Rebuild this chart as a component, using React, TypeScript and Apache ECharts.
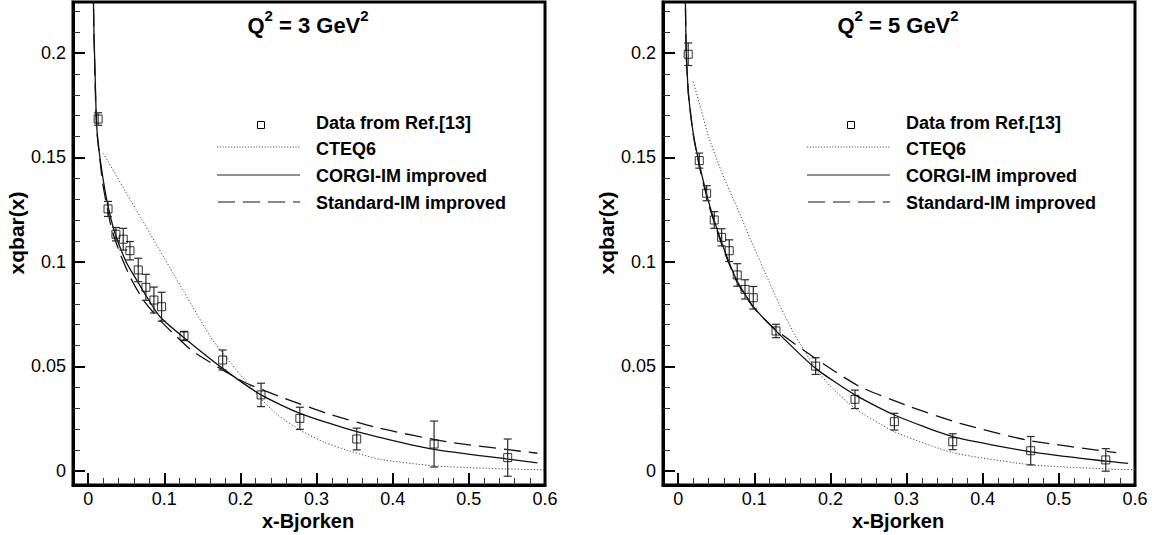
import React, { useEffect, useRef } from "react";
import * as echarts from "echarts";

const FONT = "'Liberation Sans', Arial, Helvetica, sans-serif";

// Axis ranges and tick values
const X_MIN = -0.02;
const X_MAX = 0.6;
const Y_MIN = -0.0067;
const Y_MAX = 0.2244;
const xMajorTicks = [0, 0.1, 0.2, 0.3, 0.4, 0.5, 0.6];
const xMinorTicks = [0.02, 0.04, 0.06, 0.08, 0.12, 0.14, 0.16, 0.18, 0.22, 0.24, 0.26, 0.28, 0.32, 0.34, 0.36, 0.38, 0.42, 0.44, 0.46, 0.48, 0.52, 0.54, 0.56, 0.58];
const yMajorTicks = [0, 0.05, 0.1, 0.15, 0.2];
const yMinorTicks = [0.01, 0.02, 0.03, 0.04, 0.06, 0.07, 0.08, 0.09, 0.11, 0.12, 0.13, 0.14, 0.16, 0.17, 0.18, 0.19, 0.21, 0.22];

const legendLabels = ["Data from Ref.[13]", "CTEQ6", "CORGI-IM improved", "Standard-IM improved"];
const panelTitles = ["3", "5"];

// Q^2 = 3 GeV^2 data
const dataX3 = [0.013, 0.026, 0.0364, 0.046, 0.0548, 0.0657, 0.0758, 0.0863, 0.0964, 0.1258, 0.1766, 0.227, 0.278, 0.3527, 0.4543, 0.551];
const dataY3 = [0.1684, 0.1254, 0.1133, 0.1109, 0.1054, 0.0962, 0.0879, 0.0818, 0.0786, 0.0646, 0.0531, 0.0364, 0.0252, 0.0153, 0.0129, 0.0064];
const dataErr3 = [0.003, 0.0036, 0.0032, 0.0052, 0.0044, 0.0056, 0.0062, 0.0062, 0.0069, 0.0022, 0.0048, 0.0056, 0.0053, 0.0052, 0.011, 0.0089];

const cteq3 = [[0.0197, 0.152], [0.0636, 0.1246], [0.113, 0.0937], [0.16, 0.0645], [0.1766, 0.0565], [0.2, 0.046], [0.227, 0.0345], [0.25, 0.0265], [0.278, 0.0196], [0.31, 0.0138], [0.3396, 0.01], [0.383, 0.0056], [0.4533, 0.0025], [0.5147, 0.0014], [0.6, 0.0005]];
const corgi3 = [[0.006, 0.245], [0.0075, 0.21], [0.0088, 0.193], [0.011, 0.166], [0.0154, 0.15], [0.0242, 0.13], [0.035, 0.114], [0.0505, 0.0995], [0.0636, 0.0914], [0.0767, 0.0834], [0.0942, 0.0738], [0.125, 0.064], [0.1766, 0.0491], [0.227, 0.0364], [0.278, 0.0276], [0.3527, 0.0188], [0.4543, 0.0103], [0.551, 0.0057], [0.59, 0.0039]];
const standard3 = [[0.006, 0.245], [0.0075, 0.21], [0.0088, 0.19], [0.011, 0.164], [0.0154, 0.1488], [0.0197, 0.136], [0.0307, 0.116], [0.0417, 0.1042], [0.0548, 0.093], [0.0723, 0.0818], [0.0942, 0.0722], [0.116, 0.0643], [0.138, 0.0571], [0.2037, 0.0427], [0.2519, 0.0356], [0.3133, 0.0276], [0.3833, 0.0204], [0.471, 0.014], [0.59, 0.0085]];

// Q^2 = 5 GeV^2 data
const dataX5 = [0.0131, 0.0276, 0.0373, 0.0473, 0.057, 0.067, 0.0775, 0.0877, 0.0986, 0.1284, 0.1805, 0.2322, 0.2839, 0.3606, 0.463, 0.5616];
const dataY5 = [0.1994, 0.1485, 0.1329, 0.1201, 0.1118, 0.1054, 0.0938, 0.0869, 0.0829, 0.067, 0.0502, 0.0343, 0.0236, 0.014, 0.0097, 0.0053];
const dataErr5 = [0.0054, 0.0036, 0.0036, 0.004, 0.0041, 0.0052, 0.0054, 0.0046, 0.0054, 0.0032, 0.004, 0.0044, 0.004, 0.0038, 0.0068, 0.0054];

const cteq5 = [[0.0197, 0.1863], [0.03, 0.173], [0.0394, 0.1605], [0.057, 0.143], [0.0767, 0.1265], [0.0942, 0.1115], [0.114, 0.095], [0.1337, 0.079], [0.1534, 0.065], [0.1805, 0.0491], [0.2, 0.0405], [0.2322, 0.03], [0.2839, 0.0188], [0.3606, 0.0088], [0.463, 0.003], [0.5616, 0.001], [0.6, 0.0006]];
const corgi5 = [[0.0088, 0.245], [0.0095, 0.222], [0.0105, 0.2], [0.0118, 0.19], [0.0135, 0.18], [0.0197, 0.1616], [0.0285, 0.1456], [0.0417, 0.1265], [0.0591, 0.1073], [0.0767, 0.0914], [0.0986, 0.0786], [0.1293, 0.0667], [0.1805, 0.0491], [0.2322, 0.0364], [0.2839, 0.0268], [0.3606, 0.0164], [0.463, 0.0092], [0.5616, 0.0047], [0.591, 0.0036]];
const standard5 = [[0.0088, 0.245], [0.0095, 0.222], [0.0105, 0.2], [0.0118, 0.19], [0.0135, 0.18], [0.0197, 0.161], [0.0285, 0.1445], [0.0417, 0.1255], [0.0591, 0.1063], [0.0767, 0.0908], [0.0986, 0.0783], [0.1293, 0.0672], [0.195, 0.0502], [0.2388, 0.0403], [0.3044, 0.0308], [0.3702, 0.0228], [0.4578, 0.0148], [0.5752, 0.0088]];

const panels = [
  { dx: dataX3, dy: dataY3, de: dataErr3, cteq: cteq3, corgi: corgi3, std: standard3 },
  { dx: dataX5, dy: dataY5, de: dataErr5, cteq: cteq5, corgi: corgi5, std: standard5 },
];

const GRID_LEFT = [73, 663];
const GRID_W = 472;
const GRID_TOP = 2;
const GRID_H = 483;
const OFFSET = 590;
const SMOOTH = 0.2;

function buildOption() {
  const grids = GRID_LEFT.map((l) => ({
    left: l,
    top: GRID_TOP,
    width: GRID_W,
    height: GRID_H,
    show: true,
    borderColor: "#000",
    borderWidth: 3,
    backgroundColor: "transparent",
  }));

  const labelStyle = { color: "#000", fontFamily: FONT, fontSize: 18 };

  const xAxes: any[] = [];
  const yAxes: any[] = [];
  [0, 1].forEach((g) => {
    xAxes.push({
      type: "value", gridIndex: g, min: X_MIN, max: X_MAX, position: "bottom",
      axisLine: { show: true, onZero: false, lineStyle: { color: "#000", width: 3 } },
      axisTick: { show: true, inside: true, length: 12, lineStyle: { color: "#000", width: 2 }, customValues: xMajorTicks },
      axisLabel: { show: true, customValues: xMajorTicks, margin: 5, showMinLabel: true, showMaxLabel: true, ...labelStyle },
      splitLine: { show: false },
    });
    xAxes.push({
      type: "value", gridIndex: g, min: X_MIN, max: X_MAX, position: "bottom",
      axisLine: { show: false, onZero: false },
      axisTick: { show: true, inside: true, length: 7, lineStyle: { color: "#333", width: 1 }, customValues: xMinorTicks },
      axisLabel: { show: false },
      splitLine: { show: false },
    });
    yAxes.push({
      type: "value", gridIndex: g, min: Y_MIN, max: Y_MAX, position: "left",
      axisLine: { show: true, onZero: false, lineStyle: { color: "#000", width: 3 } },
      axisTick: { show: true, inside: true, length: 12, lineStyle: { color: "#000", width: 2 }, customValues: yMajorTicks },
      axisLabel: { show: true, customValues: yMajorTicks, margin: 7, showMinLabel: true, showMaxLabel: true, ...labelStyle },
      splitLine: { show: false },
    });
    yAxes.push({
      type: "value", gridIndex: g, min: Y_MIN, max: Y_MAX, position: "left",
      axisLine: { show: false, onZero: false },
      axisTick: { show: true, inside: true, length: 7, lineStyle: { color: "#333", width: 1 }, customValues: yMinorTicks },
      axisLabel: { show: false },
      splitLine: { show: false },
    });
  });

  const series: any[] = [];
  panels.forEach((p, i) => {
    const xi = i * 2;
    const yi = i * 2;
    const pts = p.dx.map((x, k) => [x, p.dy[k], p.de[k]]);
    series.push({
      type: "custom", name: "error bars", xAxisIndex: xi, yAxisIndex: yi, z: 3,
      encode: { x: 0, y: 1 },
      data: pts,
      renderItem: (_params: any, api: any) => {
        const x = api.value(0) as number;
        const y = api.value(1) as number;
        const e = api.value(2) as number;
        const hi = api.coord([x, y + e]);
        const lo = api.coord([x, y - e]);
        const w = 4;
        const style = { stroke: "#2a2a2a", lineWidth: 1.2 };
        return {
          type: "group",
          children: [
            { type: "line", shape: { x1: hi[0], y1: hi[1], x2: lo[0], y2: lo[1] }, style },
            { type: "line", shape: { x1: hi[0] - w, y1: hi[1], x2: hi[0] + w, y2: hi[1] }, style },
            { type: "line", shape: { x1: lo[0] - w, y1: lo[1], x2: lo[0] + w, y2: lo[1] }, style },
          ],
        };
      },
    });
    series.push({
      type: "scatter", name: legendLabels[0], xAxisIndex: xi, yAxisIndex: yi, z: 4,
      symbol: "rect", symbolSize: 8,
      itemStyle: { color: "transparent", borderColor: "#000", borderWidth: 1 },
      data: pts.map((d) => [d[0], d[1]]),
    });
    series.push({
      type: "line", name: legendLabels[1], xAxisIndex: xi, yAxisIndex: yi, z: 2,
      showSymbol: false, symbol: "none", smooth: SMOOTH,
      lineStyle: { color: "#444", width: 1, type: [1.2, 2] },
      data: p.cteq,
    });
    series.push({
      type: "line", name: legendLabels[2], xAxisIndex: xi, yAxisIndex: yi, z: 2,
      showSymbol: false, symbol: "none", smooth: SMOOTH,
      lineStyle: { color: "#111", width: 1.3, type: "solid" },
      data: p.corgi,
    });
    series.push({
      type: "line", name: legendLabels[3], xAxisIndex: xi, yAxisIndex: yi, z: 2,
      showSymbol: false, symbol: "none", smooth: SMOOTH,
      lineStyle: { color: "#111", width: 1.3, type: [17, 8] },
      data: p.std,
    });
  });

  const graphics: any[] = [];
  [0, 1].forEach((i) => {
    const ox = i * OFFSET;
    // title
    graphics.push({
      type: "text", x: 308 + ox, y: 22, z: 10,
      style: {
        text: `{a|Q}{s|2}{a| = ${panelTitles[i]} GeV}{s|2}`,
        align: "center", verticalAlign: "middle",
        rich: {
          a: { fontSize: 22, fontWeight: "bold", fontFamily: FONT, fill: "#000", lineHeight: 28, verticalAlign: "bottom" },
          s: { fontSize: 15, fontWeight: "bold", fontFamily: FONT, fill: "#000", lineHeight: 22, verticalAlign: "top" },
        },
      },
    });
    // axis names
    graphics.push({
      type: "text", x: 16 + ox, y: 233, rotation: Math.PI / 2, z: 10,
      style: { text: "xqbar(x)", align: "center", verticalAlign: "middle", fontSize: 21, fontWeight: "bold", fontFamily: FONT, fill: "#000" },
    });
    graphics.push({
      type: "text", x: 308 + ox, y: 521, z: 10,
      style: { text: "x-Bjorken", align: "center", verticalAlign: "middle", fontSize: 20, fontWeight: "bold", fontFamily: FONT, fill: "#000" },
    });
    // legend
    graphics.push({
      type: "rect", z: 10, shape: { x: 257.5 + ox, y: 121.5, width: 7, height: 7 },
      style: { fill: "#fff", stroke: "#000", lineWidth: 1 },
    });
    graphics.push({
      type: "line", z: 10, shape: { x1: 217 + ox, y1: 147, x2: 300 + ox, y2: 147 },
      style: { stroke: "#555", lineWidth: 1, lineDash: [1.2, 1.6] },
    });
    graphics.push({
      type: "line", z: 10, shape: { x1: 217 + ox, y1: 175, x2: 300 + ox, y2: 175 },
      style: { stroke: "#222", lineWidth: 1.2 },
    });
    graphics.push({
      type: "line", z: 10, shape: { x1: 218 + ox, y1: 202, x2: 300 + ox, y2: 202 },
      style: { stroke: "#111", lineWidth: 1.2, lineDash: [17, 8] },
    });
    const rowsY = [123, 148.5, 175.5, 202.5];
    legendLabels.forEach((t, k) => {
      graphics.push({
        type: "text", x: 316 + ox, y: rowsY[k], z: 10,
        style: { text: t, align: "left", verticalAlign: "middle", fontSize: 18, fontWeight: "bold", fontFamily: FONT, fill: "#000" },
      });
    });
  });

  return {
    animation: false,
    backgroundColor: "#fff",
    grid: grids,
    xAxis: xAxes,
    yAxis: yAxes,
    series,
    graphic: graphics,
  };
}

export default function App() {
  const ref = useRef<HTMLDivElement>(null);
  useEffect(() => {
    if (!ref.current) return;
    const chart = echarts.init(ref.current, null, { renderer: "svg" });
    chart.setOption(buildOption() as any);
    return () => chart.dispose();
  }, []);
  return <div ref={ref} style={{ position: "absolute", left: 0, top: 0, width: 1152, height: 535 }} />;
}
